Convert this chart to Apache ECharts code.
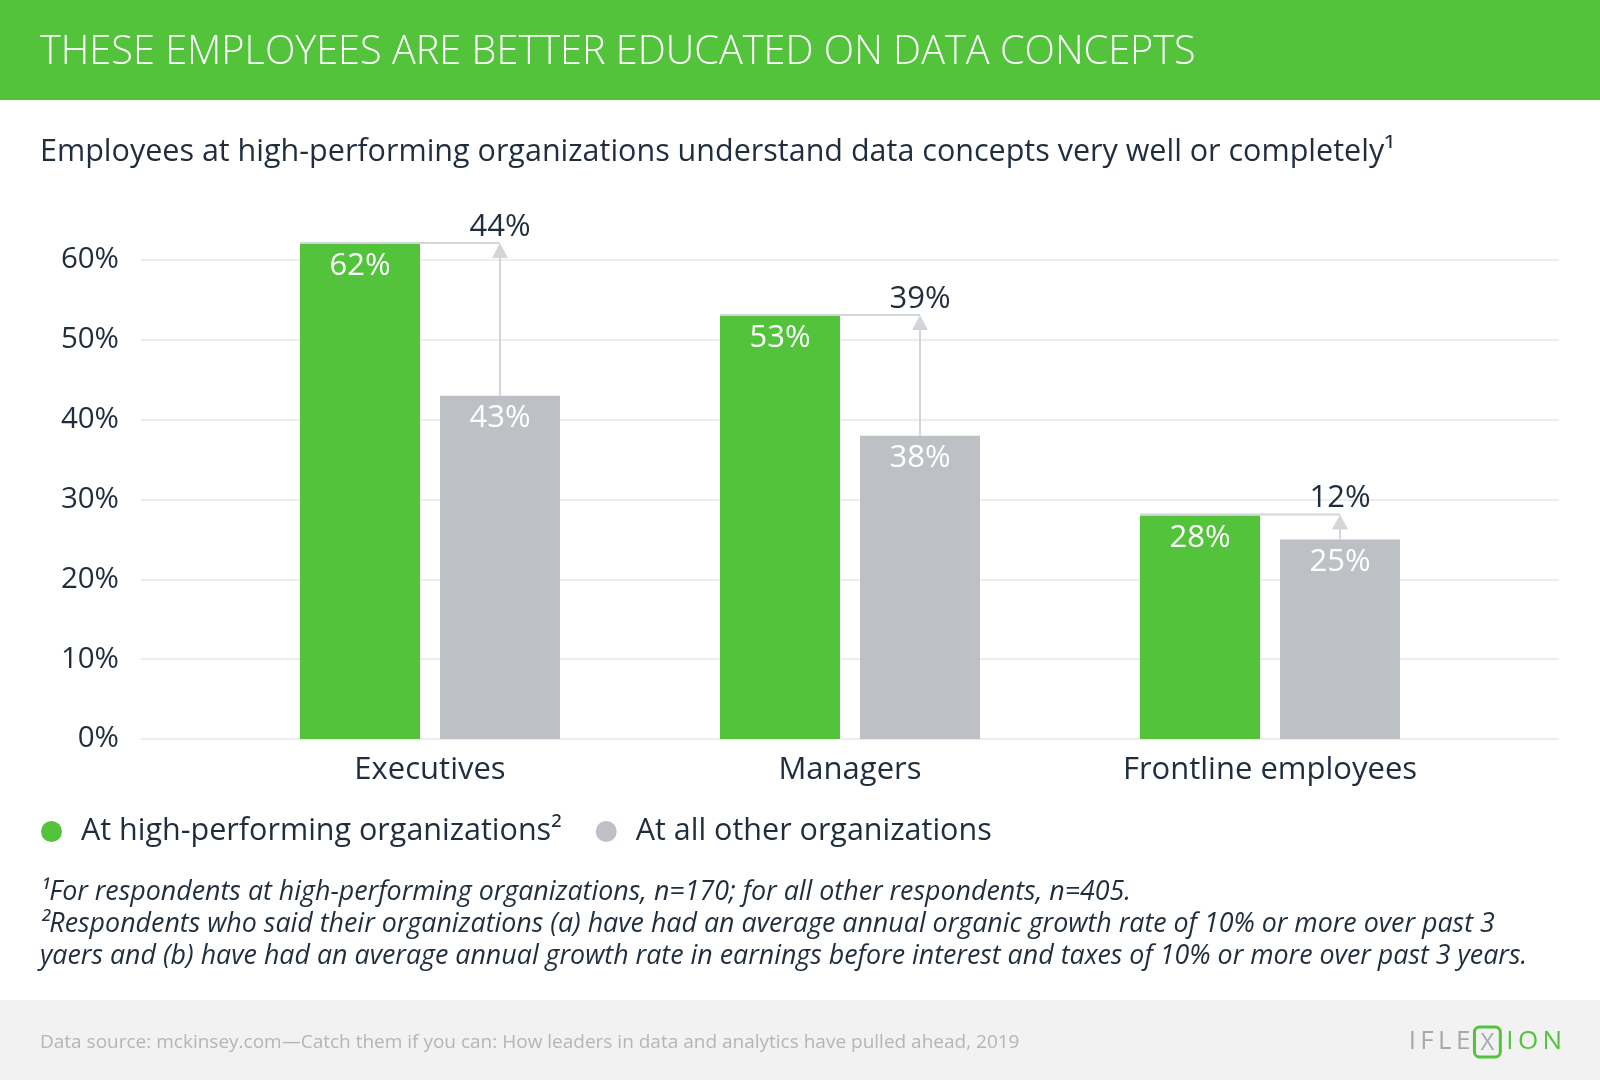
<!DOCTYPE html>
<html>
<head>
<meta charset="utf-8">
<script src="https://cdn.jsdelivr.net/npm/echarts@6/dist/echarts.min.js"></script>
<style>html,body{margin:0;padding:0;background:#fff}#c{width:1600px;height:1080px}</style>
</head>
<body>
<div id="c"></div>
<script>
const categories = ['Executives', 'Managers', 'Frontline employees'];
const highPerforming = [62, 53, 28];
const allOther = [43, 38, 25];
const increaseLabels = ['44%', '39%', '12%'];
const seriesNames = ['At high-performing organizations²', 'At all other organizations'];
const yMin = 0, yMax = 60, yStep = 10;

const FONT = '"Open Sans", sans-serif';
const DARK = '#1f2d3d';
const GREEN = '#52c33a';
const GRAY = '#bdc1c5';
const ARROW = '#d3d5d8';

const chart = echarts.init(document.getElementById('c'), null, {renderer: 'canvas'});

const barFrac = 120 / 420, gapFrac = 20 / 420;

const option = {
  backgroundColor: '#ffffff',
  textStyle: {fontFamily: FONT},
  animation: false,
  grid: [
    {left: 141, right: 41, top: 260, height: 479},
    {left: 220, width: 1260, top: 260, height: 479}
  ],
  xAxis: [
    {gridIndex: 0, type: 'value', show: false, min: 0, max: 1},
    {gridIndex: 1, type: 'category', data: categories,
      axisLine: {show: false}, axisTick: {show: false},
      axisLabel: {fontSize: 31, color: DARK, margin: 16, fontFamily: FONT}}
  ],
  yAxis: [
    {gridIndex: 0, type: 'value', min: yMin, max: yMax, interval: yStep,
      axisLine: {show: false}, axisTick: {show: false},
      axisLabel: {formatter: '{value}%', fontSize: 29.5, color: DARK, margin: 22, fontFamily: FONT,
        padding: [8, 0, 0, 0]},
      splitLine: {lineStyle: {color: '#ededed', width: 2}}},
    {gridIndex: 1, type: 'value', min: yMin, max: yMax, interval: yStep, show: false,
      splitLine: {show: false}}
  ],
  legend: {
    data: seriesNames,
    left: 36, top: 811,
    icon: 'circle', itemWidth: 21, itemHeight: 21, itemGap: 34,
    textStyle: {fontSize: 30.5, color: DARK, fontFamily: FONT, padding: [0, 0, 0, 14]}
  },
  series: [
    {
      name: seriesNames[0], type: 'bar', xAxisIndex: 1, yAxisIndex: 1,
      data: highPerforming, barWidth: '28.57%', barGap: '16.67%', clip: false,
      itemStyle: {color: GREEN},
      label: {show: true, position: 'insideTop', distance: 7, formatter: '{c}%',
        color: '#fff', fontSize: 31, fontFamily: FONT}
    },
    {
      name: seriesNames[1], type: 'bar', xAxisIndex: 1, yAxisIndex: 1,
      data: allOther, barWidth: '28.57%', barGap: '16.67%', clip: false,
      itemStyle: {color: GRAY},
      label: {show: true, position: 'insideTop', distance: 7, formatter: '{c}%',
        color: '#fff', fontSize: 31, fontFamily: FONT}
    },
    {
      name: 'arrows', type: 'custom', xAxisIndex: 1, yAxisIndex: 1, z: 5, clip: false,
      data: categories.map((c, i) => [i, highPerforming[i], allOther[i]]),
      renderItem: function (params, api) {
        const i = api.value(0);
        const hv = api.value(1), ov = api.value(2);
        const cx = api.coord([i, 0])[0];
        const band = api.size([1, 0])[0];
        const barW = band * barFrac, gap = band * gapFrac;
        const greenRight = cx - gap / 2;
        const grayC = cx + gap / 2 + barW / 2;
        const yH = api.coord([i, hv])[1];
        const yO = api.coord([i, ov])[1];
        return {
          type: 'group',
          children: [
            {type: 'line', shape: {x1: greenRight - barW, y1: yH - 1, x2: grayC, y2: yH - 1},
              style: {stroke: ARROW, lineWidth: 2}},
            {type: 'line', shape: {x1: grayC, y1: yO, x2: grayC, y2: yH + 12},
              style: {stroke: ARROW, lineWidth: 2}},
            {type: 'polygon', shape: {points: [[grayC - 8, yH + 14], [grayC + 8, yH + 14], [grayC, yH - 1]]},
              style: {fill: ARROW}},
            {type: 'text', x: grayC, y: yH - 17,
              style: {text: increaseLabels[params.dataIndex], fill: DARK, fontSize: 31,
                fontFamily: FONT, align: 'center', verticalAlign: 'middle'}}
          ]
        };
      }
    }
  ],
  graphic: [
    {type: 'rect', left: 0, top: 0, shape: {width: 1600, height: 100}, style: {fill: GREEN}, z: -1},
    {type: 'text', x: 40, y: 53, style: {text: 'THESE EMPLOYEES ARE BETTER EDUCATED ON DATA CONCEPTS',
      fill: '#fff', fontSize: 39.7, fontWeight: 300, fontFamily: FONT, verticalAlign: 'middle'}},
    {type: 'text', x: 40, y: 152, style: {text: 'Employees at high-performing organizations understand data concepts very well or completely¹',
      fill: DARK, fontSize: 30.5, fontFamily: FONT, verticalAlign: 'middle'}},
    {type: 'text', x: 40, y: 892, style: {text: '¹For respondents at high-performing organizations, n=170; for all other respondents, n=405.',
      fill: DARK, fontSize: 26.8, fontStyle: 'italic', fontFamily: FONT, verticalAlign: 'middle'}},
    {type: 'text', x: 40, y: 924, style: {text: '²Respondents who said their organizations (a) have had an average annual organic growth rate of 10% or more over past 3',
      fill: DARK, fontSize: 26.8, fontStyle: 'italic', fontFamily: FONT, verticalAlign: 'middle'}},
    {type: 'text', x: 40, y: 956, style: {text: 'yaers and (b) have had an average annual growth rate in earnings before interest and taxes of 10% or more over past 3 years.',
      fill: DARK, fontSize: 26.8, fontStyle: 'italic', fontFamily: FONT, verticalAlign: 'middle'}},
    {type: 'rect', left: 0, top: 1000, shape: {width: 1600, height: 80}, style: {fill: '#f2f2f2'}, z: -1},
    {type: 'text', x: 40, y: 1043, style: {text: 'Data source: mckinsey.com\u2014Catch them if you can: How leaders in data and analytics have pulled ahead, 2019',
      fill: '#b5b5b5', fontSize: 19, fontFamily: FONT, verticalAlign: 'middle'}},
    {type: 'text', x: 1562, y: 1042, style: {
      text: '{g|I\u2009F\u2009L\u2009E}{x|X}{n|I\u2009O\u2009N}', align: 'right', verticalAlign: 'middle',
      rich: {
        g: {fill: '#a7a9ab', fontSize: 26, fontFamily: FONT, padding: [0, 4, 0, 0]},
        x: {fill: '#a7a9ab', fontSize: 24, fontFamily: FONT, borderColor: '#52c33a', borderWidth: 3, borderRadius: 5, padding: [4, 6, 2, 6]},
        n: {fill: '#52c33a', fontSize: 26, fontFamily: FONT, padding: [0, 0, 0, 6]}
      }}}
  ]
};
chart.setOption(option);
</script>
</body>
</html>
